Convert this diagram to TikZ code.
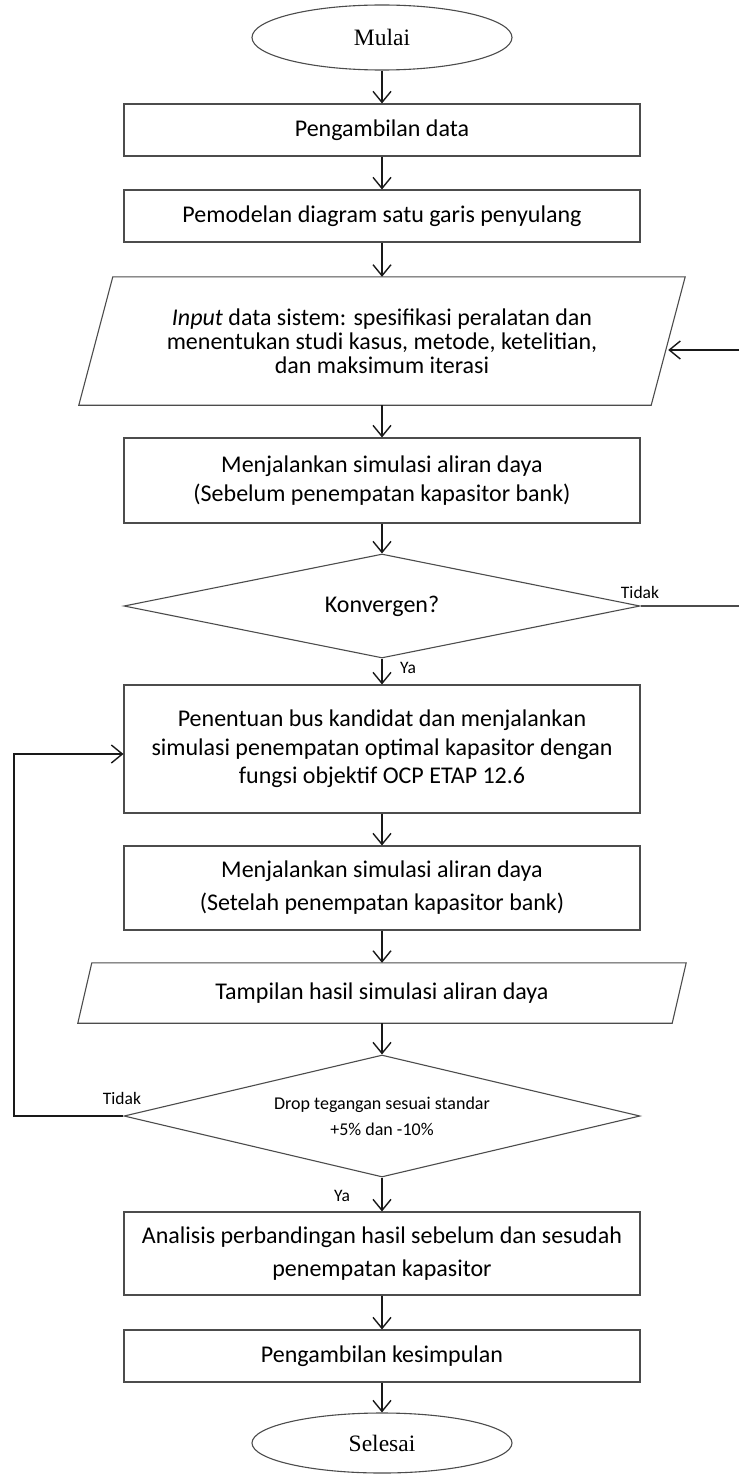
\documentclass[tikz,border=0pt]{standalone}
\usepackage{fontspec}
\setmainfont{Carlito}
\newfontfamily\timesfont{Liberation Serif}
\usetikzlibrary{shapes.geometric,arrows.meta}

\begin{document}
\begin{tikzpicture}[x=1pt, y=-1pt,
        rand/.style={draw=black!70, line width=1.1pt},
        box/.style={rectangle, rand, minimum width=516pt, inner sep=0pt, align=center, text=black, font=\fontsize{24}{28.5}\selectfont},
        term/.style={ellipse, rand, minimum width=260pt, inner sep=0pt, text=black, font=\timesfont\fontsize{23.5}{28}\selectfont},
        io/.style={rectangle, inner sep=0pt, align=center, text=black, font=\fontsize{24}{28.5}\selectfont},
        cond/.style={diamond, rand, minimum width=516pt, inner sep=0pt, align=center, text=black},
        arr/.style={-{Straight Barb[length=11pt,width=18pt]}, line width=1.4pt, black!90},
        lbl/.style={inner sep=0pt, text=black, font=\fontsize{17.5}{20}\selectfont}]

    \fill[white] (0,0) rectangle (739,1474);
    \useasboundingbox (0,0) rectangle (739,1474);

    % --- Mulai en data ---
    \node[term, minimum height=65pt] (mulai) at (382,37.5) {Mulai};
    \node[box, minimum height=52pt] (ambil) at (382,130) {Pengambilan data};
    \node[box, minimum height=52pt] (model) at (382,216) {Pemodelan diagram satu garis penyulang};

    % Input data (jajargenjang)
    \node[io, minimum width=572pt, minimum height=128pt] (input) at (382,341)
        {\textit{Input} data sistem: spesifikasi peralatan dan\\[-4.5pt]
         menentukan studi kasus, metode, ketelitian,\\[-4.5pt]
         dan maksimum iterasi};

    % --- Aliran daya sebelum ---
    \node[box, minimum height=85pt] (sebelum) at (382,480.5)
        {Menjalankan simulasi aliran daya\\(Sebelum penempatan kapasitor bank)};
    \node[cond, aspect=5, minimum height=104pt, font=\fontsize{24}{28.5}\selectfont] (konv) at (382,606) {Konvergen?};

    % --- Penempatan kapasitor ---
    \node[box, minimum height=128pt] (ocp) at (382,749)
        {Penentuan bus kandidat dan menjalankan\\
         simulasi penempatan optimal kapasitor dengan\\
         fungsi objektif OCP ETAP 12.6};
    \node[box, minimum height=84pt] (setelah) at (382,888)
        {Menjalankan simulasi aliran daya\\[4.5pt](Setelah penempatan kapasitor bank)};
    \node[io, minimum width=594pt, minimum height=60pt] (tampil) at (382,993)
        {Tampilan hasil simulasi aliran daya};
    \node[cond, aspect=4.2, minimum height=122pt, font=\fontsize{18}{26}\selectfont] (drop) at (382,1116)
        {Drop tegangan sesuai standar\\+5\% dan -10\%};

    % --- Analisis en selesai ---
    \node[box, minimum height=83pt] (analisis) at (382,1253.5)
        {Analisis perbandingan hasil sebelum dan sesudah\\[4.5pt]penempatan kapasitor};
    \node[box, minimum height=52pt] (simpul) at (382,1356) {Pengambilan kesimpulan};
    \node[term, minimum height=60pt] (selesai) at (382,1443) {Selesai};

    % Jajargenjang om input en tampilan
    \foreach \n/\s in {input/17, tampil/7} {
        \draw[rand] ([xshift=\s pt]\n.north west) -- ([xshift=\s pt]\n.north east)
            -- ([xshift=-\s pt]\n.south east) -- ([xshift=-\s pt]\n.south west) -- cycle;
    }

    % Pijlen omlaag
    \foreach \a/\b in {mulai/ambil, ambil/model, model/input, input/sebelum, sebelum/konv,
                       konv/ocp, ocp/setelah, setelah/tampil, tampil/drop, drop/analisis,
                       analisis/simpul, simpul/selesai} {
        \draw[arr] (\a) -- (\b);
    }

    % Terugkoppeling rechts
    \coordinate (konvR) at (739,606);
    \coordinate (inputR) at (739,350);
    \draw[rand] (konv.east) -- (konvR);
    \draw[arr] (inputR) -- (inputR -| input.east);
    \node[lbl] (tidakA) at (640,592) {Tidak};
    \node[lbl] (yaA) at (408,668) {Ya};

    % Terugkoppeling links
    \coordinate (loopL) at (14,754);
    \draw[arr] (drop.west) -| (loopL) -- (loopL -| ocp.west);
    \node[lbl] (tidakB) at (122,1098) {Tidak};
    \node[lbl] (yaB) at (342,1196) {Ya};
\end{tikzpicture}
\end{document}
